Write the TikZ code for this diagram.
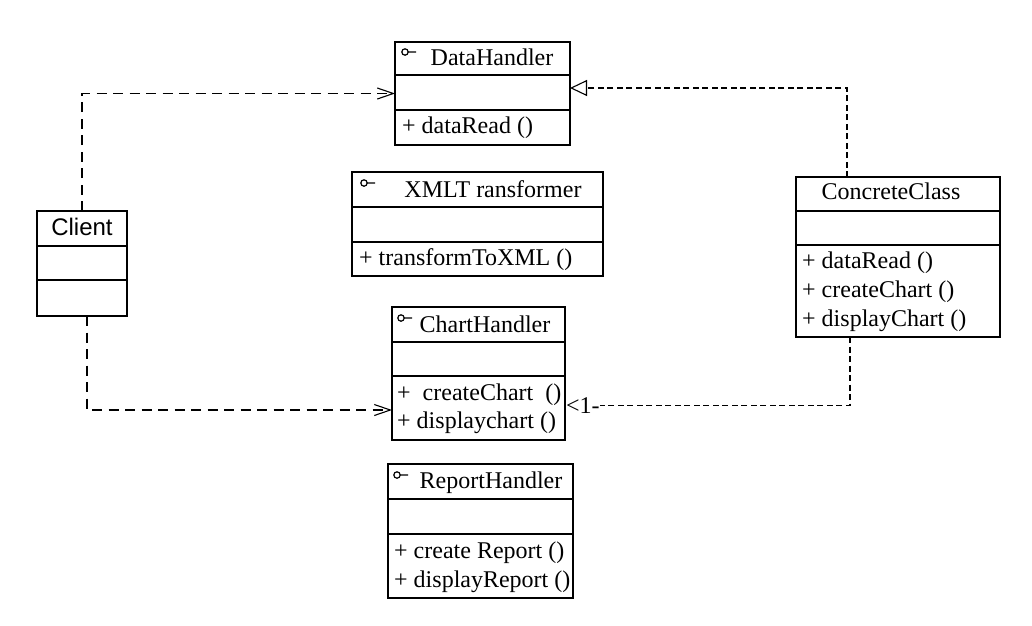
\documentclass[tikz,border=0pt]{standalone}
\usepackage{fontspec}
\setmainfont{Liberation Serif}
\newfontfamily\sansf{Liberation Sans}
\usetikzlibrary{arrows.meta,calc}
\newcommand\hdiv[2]{\draw[line width=1.1pt] ($(#1.north west)+(0,#2)$) -- ($(#1.north east)+(0,#2)$);}
\newcommand\ificon[2]{\draw[line width=1.2pt] (#1,#2) circle (3.2) ($(#1,#2)+(3.2,0)$) -- ++(8,0);}
\begin{document}
\begin{tikzpicture}[x=1pt,y=-1pt,
  box/.style={draw, line width=1.1pt, inner sep=0pt, outer sep=0pt, anchor=north west},
  txt/.style={inner sep=0pt, font=\fontsize{24}{28}\selectfont},
  ttl/.style={txt, anchor=base},
  itm/.style={txt, anchor=base west},
  dep/.style={draw, line width=1.1pt, dash pattern=on 10pt off 6.5pt,
     -{Straight Barb[length=16pt,width=11pt,line width=1.1pt]}},
  realz/.style={draw, line width=1.1pt, dash pattern=on 6pt off 3.5pt}]
\useasboundingbox[fill=white] (0,0) rectangle (1032,625);

% DataHandler
\node[box, minimum width=175, minimum height=103] (dh) at (395,42) {};
\hdiv{dh}{33}\hdiv{dh}{68}
\ificon{405}{52}
\node[ttl] (dht) at (492,65) {DataHandler};
\node[itm] (dhm) at (402,133) {+ dataRead ()};

% XMLTransformer
\node[box, minimum width=251, minimum height=104] (xt) at (352,172) {};
\hdiv{xt}{35}\hdiv{xt}{70}
\ificon{364}{183}
\node[ttl] (xtt) at (493,197) {XMLT ransformer};
\node[itm] (xtm) at (359,265) {+ transformToXML ()};

% Client
\node[box, minimum width=90, minimum height=105] (cl) at (37,211) {};
\hdiv{cl}{35}\hdiv{cl}{69}
\node[ttl, font=\sansf\fontsize{24}{28}\selectfont] (clt) at (82,235) {Client};

% ChartHandler
\node[box, minimum width=173, minimum height=133] (ch) at (392,307) {};
\hdiv{ch}{35}\hdiv{ch}{69}
\ificon{401}{318}
\node[ttl] (cht) at (485,332) {ChartHandler};
\node[itm] (chm1) at (397,400) {+\ \ createChart\ \ ()};
\node[itm] (chm2) at (397,428) {+ displaychart ()};

% ReportHandler
\node[box, minimum width=185, minimum height=134] (rh) at (388,464) {};
\hdiv{rh}{35}\hdiv{rh}{70}
\ificon{397}{475}
\node[ttl] (rht) at (491,488) {ReportHandler};
\node[itm] (rhm1) at (394,558) {+ create Report ()};
\node[itm] (rhm2) at (394,587) {+ displayReport ()};

% ConcreteClass
\node[box, minimum width=204, minimum height=160] (cc) at (796,177) {};
\hdiv{cc}{34}\hdiv{cc}{68}
\node[ttl] (cct) at (891,199) {ConcreteClass};
\node[itm] (ccm1) at (802,268) {+ dataRead ()};
\node[itm] (ccm2) at (802,297) {+ createChart ()};
\node[itm] (ccm3) at (802,326) {+ displayChart ()};

% label
\node[itm] (lab) at (566,413) {<1-};

% connectors
\draw[dep] (cl.north) |- (dh.west);
\draw[dep] ($(cl.south)+(5,0)$) |- ($(ch.south west)+(0,-30)$);
\draw[realz, -{Triangle[open,length=17pt,width=16pt,line width=1.1pt]}]
   ($(cc.north west)+(51,0)$) |- ($(dh.north east)+(0,46)$);
\draw[realz] ($(cc.south west)+(54,0)$) |- (lab.east);
\end{tikzpicture}
\end{document}
